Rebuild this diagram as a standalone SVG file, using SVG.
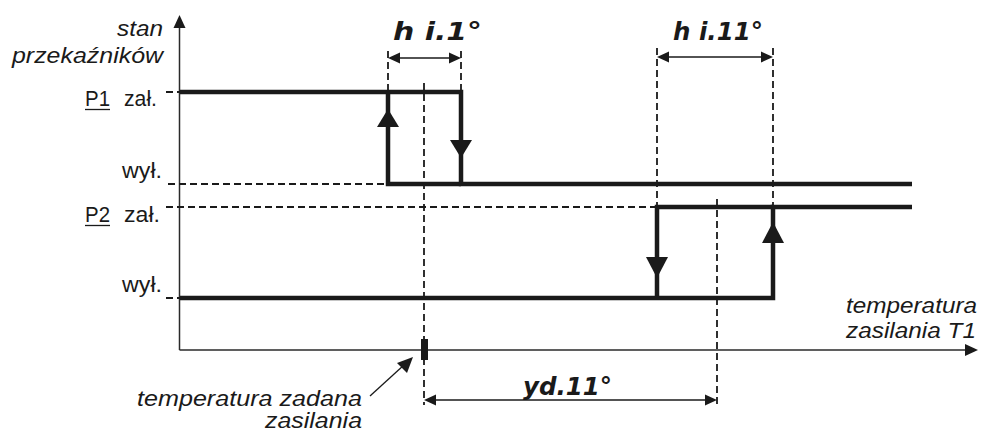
<svg xmlns="http://www.w3.org/2000/svg" width="982" height="435" viewBox="0 0 982 435">
<style>
.it{font-family:"Liberation Sans",Arial,sans-serif;font-style:italic;font-size:22px;fill:#1a1a1a}
.rg{font-family:"Liberation Sans",Arial,sans-serif;font-size:22px;fill:#1a1a1a}
.seg{font-family:"DejaVu Sans",sans-serif;font-style:oblique;font-weight:bold;font-size:25px;fill:#1a1a1a}
.axis{stroke:#2a2a2a;stroke-width:1.5;fill:none}
.trace{stroke:#1a1a1a;stroke-width:4.5;fill:none;stroke-linejoin:miter;stroke-linecap:butt}
.dash{stroke:#1a1a1a;stroke-width:1.8;stroke-dasharray:7 4;fill:none}
.thin{stroke:#1a1a1a;stroke-width:1.3;fill:none}
.head{fill:#1a1a1a;stroke:none}
</style>
<rect width="982" height="435" fill="#ffffff"/>
<g id="axes">
<line class="axis" x1="179.5" y1="350" x2="179.5" y2="26"/>
<polygon class="head" points="179.5,15 173.5,28 185.5,28"/>
<line class="axis" x1="179.5" y1="350" x2="966" y2="350"/>
<polygon class="head" points="978,350 965,344 965,356"/>
</g>
<g id="labels">
<text class="it" x="117" y="36" textLength="46" lengthAdjust="spacingAndGlyphs">stan</text>
<text class="it" x="12" y="63" textLength="151" lengthAdjust="spacingAndGlyphs">przekaźników</text>
<text class="rg" x="85" y="106" textLength="25" lengthAdjust="spacingAndGlyphs">P1</text>
<line class="thin" x1="85" y1="109.5" x2="110" y2="109.5"/>
<text class="rg" x="124" y="106" textLength="33" lengthAdjust="spacingAndGlyphs">zał.</text>
<text class="rg" x="122" y="178" textLength="40" lengthAdjust="spacingAndGlyphs">wył.</text>
<text class="rg" x="85" y="222" textLength="25" lengthAdjust="spacingAndGlyphs">P2</text>
<line class="thin" x1="85" y1="225.5" x2="110" y2="225.5"/>
<text class="rg" x="124" y="222" textLength="36" lengthAdjust="spacingAndGlyphs">zał.</text>
<text class="rg" x="122" y="292" textLength="40" lengthAdjust="spacingAndGlyphs">wył.</text>
<text class="it" x="846" y="313" textLength="131" lengthAdjust="spacingAndGlyphs">temperatura</text>
<text class="it" x="846" y="338" textLength="130" lengthAdjust="spacingAndGlyphs">zasilania T1</text>
<text class="it" x="137" y="406" textLength="225" lengthAdjust="spacingAndGlyphs">temperatura zadana</text>
<text class="it" x="265" y="428" textLength="97" lengthAdjust="spacingAndGlyphs">zasilania</text>
</g>
<g id="guides">
<line class="dash" x1="166" y1="92" x2="180" y2="92"/>
<line class="dash" x1="168" y1="184" x2="388" y2="184"/>
<line class="dash" x1="166" y1="207" x2="657" y2="207"/>
<line class="dash" x1="166" y1="298" x2="180" y2="298"/>
<line class="dash" x1="388" y1="51" x2="388" y2="92"/>
<line class="dash" x1="461" y1="51" x2="461" y2="92"/>
<line class="dash" x1="424" y1="83" x2="424" y2="405"/>
<line class="dash" x1="657" y1="48" x2="657" y2="207"/>
<line class="dash" x1="773" y1="48" x2="773" y2="207"/>
<line class="dash" x1="717" y1="199" x2="717" y2="405"/>
</g>
<g id="P1">
<polyline class="trace" points="180,92 461,92 461,184 912,184"/>
<polyline class="trace" points="388,92 388,184 461,184"/>
<polygon class="head" points="388,109 377,127 399,127"/>
<polygon class="head" points="461,158 450,140 472,140"/>
</g>
<g id="P2">
<polyline class="trace" points="180,298 773,298 773,207 912,207"/>
<polyline class="trace" points="657,298 657,207 773,207"/>
<polygon class="head" points="657,278 646,257 668,257"/>
<polygon class="head" points="773,222 762,243 784,243"/>
</g>
<g id="setpoint">
<rect x="421" y="339" width="7" height="21" fill="#1a1a1a"/>
</g>
<g id="dim-labels">
<text class="seg" x="393" y="40" textLength="89" lengthAdjust="spacingAndGlyphs">h i.1°</text>
<text class="seg" x="673" y="40" textLength="90" lengthAdjust="spacingAndGlyphs">h i.11°</text>
<text class="seg" x="523" y="395" textLength="89" lengthAdjust="spacingAndGlyphs">yd.11°</text>
</g>
<g id="connectors">
<line class="thin" x1="399" y1="58" x2="450" y2="58"/>
<polygon class="head" points="388,58 400,52.5 400,63.5"/>
<polygon class="head" points="461,58 449,52.5 449,63.5"/>
<line class="thin" x1="668" y1="57" x2="762" y2="57"/>
<polygon class="head" points="657,57 669,51.5 669,62.5"/>
<polygon class="head" points="773,57 761,51.5 761,62.5"/>
<line class="thin" x1="435" y1="400" x2="706" y2="400"/>
<polygon class="head" points="424,400 436,394.5 436,405.5"/>
<polygon class="head" points="717,400 705,394.5 705,405.5"/>
<line class="thin" x1="370" y1="396" x2="404" y2="365"/>
<polygon class="head" points="413,357 397,363 407,373"/>
</g>
</svg>
